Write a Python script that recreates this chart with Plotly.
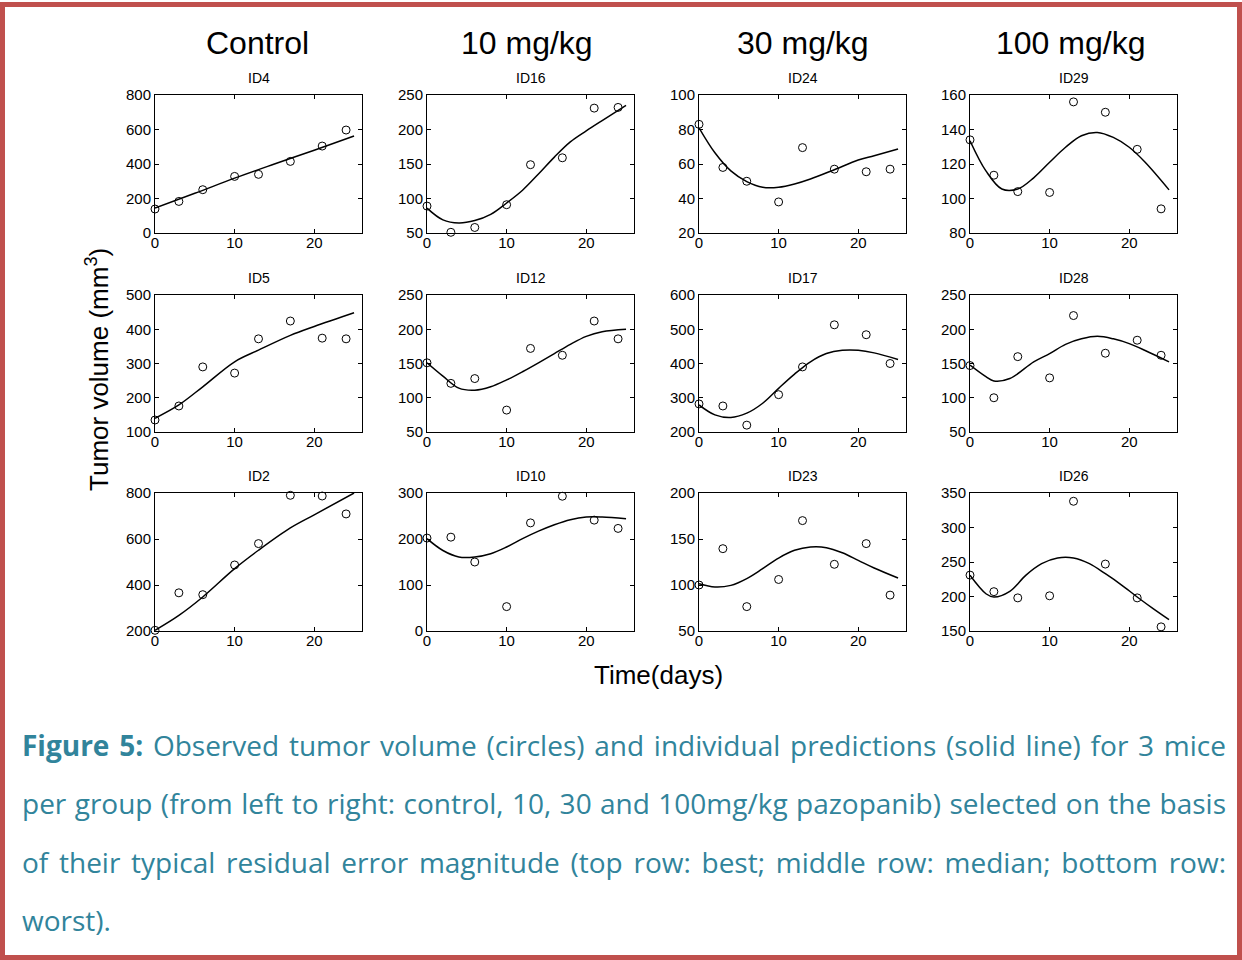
import json
import plotly.graph_objects as go
from plotly.subplots import make_subplots

# ---------------- data ----------------
days = [0, 3, 6, 10, 13, 17, 21, 24]
col_titles = ["Control", "10 mg/kg", "30 mg/kg", "100 mg/kg"]
panel_ids = [["ID4", "ID16", "ID24", "ID29"],
             ["ID5", "ID12", "ID17", "ID28"],
             ["ID2", "ID10", "ID23", "ID26"]]
x_ticks = [0, 10, 20]

# observed tumour volume (circles)
obs_ID4 = [139, 183, 251, 328, 340, 415, 504, 597]
obs_ID16 = [89, 51, 58, 91, 149, 159, 231, 232]
obs_ID24 = [83, 58, 50, 38, 69.5, 57, 55.5, 57]
obs_ID29 = [134, 113.5, 104, 103.5, 156, 150, 128.5, 94]
obs_ID5 = [135, 176, 290, 272, 372, 424, 374, 372]
obs_ID12 = [151, 121, 128, 82, 172, 162, 212, 186]
obs_ID17 = [282, 276, 220, 309, 390, 513, 484, 400]
obs_ID28 = [147, 100, 160, 129, 220, 165, 184, 162]
obs_ID2 = [203, 366, 358, 487, 580, 790, 787, 709]
obs_ID10 = [202, 204, 150, 53, 235, 293, 241, 223]
obs_ID23 = [100, 139.5, 76.5, 106, 170, 122.5, 145, 89]
obs_ID26 = [231, 207, 198, 201, 338, 247, 198, 156]

# individual predictions (solid line)
pred_t_ID4 = [0, 5, 10, 15, 20, 25]
pred_ID4 = [145, 230, 318, 400, 480, 562]
pred_t_ID16 = [0, 2, 4, 6, 8, 10, 12, 14, 16, 18, 20, 22, 25]
pred_ID16 = [86, 69, 64.5, 68, 77, 93.5, 112, 135.5, 160, 182, 198, 213, 235]
pred_t_ID24 = [0, 2, 4, 6, 8, 10, 12, 14, 17, 20, 22, 25]
pred_ID24 = [81, 66.5, 56, 49.8, 46.5, 46.5, 48.4, 51.3, 56.7, 62.3, 64.8, 68.7]
pred_t_ID29 = [0, 2, 4, 6, 8, 10, 12, 14, 16, 18, 20, 22, 25]
pred_ID29 = [133.5, 116, 105.5, 105.5, 112, 121, 129.7, 136.4, 138.3, 135.4, 129.7, 121, 105]
pred_t_ID5 = [0, 3, 6, 10, 13, 17, 20, 25]
pred_ID5 = [140, 179, 232, 305, 339, 382, 408, 448]
pred_t_ID12 = [0, 2, 4, 6, 8, 10, 12, 14, 16, 18, 20, 22, 25]
pred_ID12 = [151, 131.5, 114, 111, 116, 126, 138, 151, 164.5, 178, 189.6, 196.4, 200]
pred_t_ID17 = [0, 2, 4, 6, 8, 10, 12, 14, 16, 18, 20, 22, 25]
pred_ID17 = [279, 250, 242.5, 255, 284, 327.5, 369, 405, 429, 438.6, 438.6, 431, 411.6]
pred_t_ID28 = [0, 2, 3, 5, 8, 10, 12, 14, 16, 18, 20, 22, 25]
pred_ID28 = [147.6, 130.7, 124.4, 128, 152.4, 164.5, 178, 186, 189.6, 186, 179, 169, 152.4]
pred_t_ID2 = [0, 3, 6, 10, 13, 17, 20, 25]
pred_ID2 = [203, 268, 348, 471, 551, 648, 705, 800]
pred_t_ID10 = [0, 2, 4, 6, 8, 10, 12, 14, 16, 18, 20, 22, 25]
pred_ID10 = [200.7, 175, 161, 161, 168, 182.6, 200.7, 217, 231, 242, 247.8, 247.8, 244]
pred_t_ID23 = [0, 2, 4, 6, 8, 10, 12, 14, 16, 18, 20, 22, 25]
pred_ID23 = [101.4, 97.8, 99.6, 107, 117.8, 129.3, 137.7, 141.3, 140.6, 135, 126.8, 118.5, 107.6]
pred_t_ID26 = [0, 2, 3, 5, 7, 9, 11, 13, 15, 17, 19, 21, 23, 25]
pred_ID26 = [230.7, 204, 199.3, 207.5, 230.7, 247.6, 255.8, 255.8, 247.6, 233, 217, 199.3, 182.4, 166.4]

# y tick values of each panel
y_ticks_ID4 = [0, 200, 400, 600, 800]
y_ticks_ID16 = [50, 100, 150, 200, 250]
y_ticks_ID24 = [20, 40, 60, 80, 100]
y_ticks_ID29 = [80, 100, 120, 140, 160]
y_ticks_ID5 = [100, 200, 300, 400, 500]
y_ticks_ID12 = [50, 100, 150, 200, 250]
y_ticks_ID17 = [200, 300, 400, 500, 600]
y_ticks_ID28 = [50, 100, 150, 200, 250]
y_ticks_ID2 = [200, 400, 600, 800]
y_ticks_ID10 = [0, 100, 200, 300]
y_ticks_ID23 = [50, 100, 150, 200]
y_ticks_ID26 = [150, 200, 250, 300, 350]

caption_lines = [
    "<b>Figure 5:</b> Observed tumor volume (circles) and individual predictions (solid line) for 3 mice",
    "per group (from left to right: control, 10, 30 and 100mg/kg pazopanib) selected on the basis",
    "of their typical residual error magnitude (top row: best; middle row: median; bottom row:",
    "worst).",
]
caption_justified = [True, True, True, False]

panels = {
    "ID4": (obs_ID4, pred_t_ID4, pred_ID4, y_ticks_ID4),
    "ID16": (obs_ID16, pred_t_ID16, pred_ID16, y_ticks_ID16),
    "ID24": (obs_ID24, pred_t_ID24, pred_ID24, y_ticks_ID24),
    "ID29": (obs_ID29, pred_t_ID29, pred_ID29, y_ticks_ID29),
    "ID5": (obs_ID5, pred_t_ID5, pred_ID5, y_ticks_ID5),
    "ID12": (obs_ID12, pred_t_ID12, pred_ID12, y_ticks_ID12),
    "ID17": (obs_ID17, pred_t_ID17, pred_ID17, y_ticks_ID17),
    "ID28": (obs_ID28, pred_t_ID28, pred_ID28, y_ticks_ID28),
    "ID2": (obs_ID2, pred_t_ID2, pred_ID2, y_ticks_ID2),
    "ID10": (obs_ID10, pred_t_ID10, pred_ID10, y_ticks_ID10),
    "ID23": (obs_ID23, pred_t_ID23, pred_ID23, y_ticks_ID23),
    "ID26": (obs_ID26, pred_t_ID26, pred_ID26, y_ticks_ID26),
}

# ---------------- layout ----------------
W, H = 1242, 960
cols_px = [(155, 362), (427, 634), (699, 906), (970, 1177)]
rows_px = [(95, 233), (295, 432), (493, 631)]
FONT = "Arial, Liberation Sans, Helvetica, sans-serif"
CAP_FONT = "Open Sans, Noto Sans, sans-serif"
TEAL = "#31849B"
RED = "#C0504D"
CAP_LEFT, CAP_RIGHT = 20, 1226


def px_x(p):
    return p / W


def px_y(p):
    return 1 - p / H


fig = make_subplots(rows=3, cols=4)
annotations = []

for r in range(3):
    for c in range(4):
        pid = panel_ids[r][c]
        obs, pt, pv, yt = panels[pid]
        fig.add_trace(go.Scatter(
            x=pt, y=pv, mode="lines", line=dict(color="black", width=1.5, shape="spline", smoothing=1.0),
            showlegend=False, hoverinfo="skip"), row=r + 1, col=c + 1)
        fig.add_trace(go.Scatter(
            x=days, y=obs, mode="markers", cliponaxis=False,
            marker=dict(symbol="circle-open", size=8, color="black", line=dict(width=1)),
            showlegend=False), row=r + 1, col=c + 1)
        x0, x1 = cols_px[c]
        y0, y1 = rows_px[r]
        axis_common = dict(showline=True, linecolor="black", linewidth=1, mirror="ticks",
                           ticks="inside", ticklen=4, tickcolor="black", showgrid=False,
                           zeroline=False, automargin=False,
                           tickfont=dict(family=FONT, size=15, color="black"))
        fig.update_xaxes(domain=[px_x(x0), px_x(x1)], range=[0, 26], tickvals=x_ticks,
                         ticklabelstandoff=-4, row=r + 1, col=c + 1, **axis_common)
        fig.update_yaxes(domain=[px_y(y1), px_y(y0)], range=[yt[0], yt[-1]], tickvals=yt,
                         row=r + 1, col=c + 1, **axis_common)
        annotations.append(dict(text=pid, x=px_x((x0 + x1) / 2), y=px_y(y0 - 17),
                                xref="paper", yref="paper", showarrow=False,
                                font=dict(family=FONT, size=14, color="black"),
                                xanchor="center", yanchor="middle"))

col_centers = [257, 527, 803, 1070]
for t, cx in zip(col_titles, col_centers):
    annotations.append(dict(text=t, x=px_x(cx), y=px_y(43), xref="paper", yref="paper",
                            showarrow=False, font=dict(family=FONT, size=32, color="black"),
                            xanchor="center", yanchor="middle"))

annotations.append(dict(text="Tumor volume (mm<sup>3</sup>)", x=px_x(97), y=px_y(370),
                        xref="paper", yref="paper", showarrow=False, textangle=-90,
                        font=dict(family=FONT, size=26, color="black"),
                        xanchor="center", yanchor="middle"))
annotations.append(dict(text="Time(days)", x=px_x(658), y=px_y(675),
                        xref="paper", yref="paper", showarrow=False,
                        font=dict(family=FONT, size=26, color="black"),
                        xanchor="center", yanchor="middle"))

cap_y = [745, 803, 862, 920]
for line, cy in zip(caption_lines, cap_y):
    annotations.append(dict(text=line, x=px_x(CAP_LEFT), y=px_y(cy), xref="paper", yref="paper",
                            showarrow=False, font=dict(family=CAP_FONT, size=28, color=TEAL),
                            xanchor="left", yanchor="middle", align="left"))

fig.update_layout(
    template="none",
    width=W, height=H, autosize=False,
    margin=dict(l=0, r=0, t=0, b=0, pad=0, autoexpand=False),
    font=dict(family=FONT, color="black"),
    paper_bgcolor="white", plot_bgcolor="white",
    annotations=annotations,
    shapes=[dict(type="rect", xref="paper", yref="paper",
                 x0=px_x(2.5), x1=px_x(1239.5), y0=px_y(957.5), y1=px_y(4.5),
                 line=dict(color=RED, width=5), fillcolor="rgba(0,0,0,0)", layer="above")],
)

# plain-text prefixes of the justified caption lines
just_prefixes = []
for line, j in zip(caption_lines, caption_justified):
    if j:
        just_prefixes.append(line.replace("<b>", "").replace("</b>", "")[:20])

post_js = """
document.documentElement.style.margin='0';
document.body.style.margin='0';
document.body.style.padding='0';
document.body.style.overflow='hidden';
var gd = document.getElementById('{plot_id}');
gd.style.position='fixed'; gd.style.top='0px'; gd.style.left='0px';
var prefixes = PREFIXES;
var right = RIGHT;
var texts = gd.querySelectorAll('text.annotation-text');
texts.forEach(function(t){
  var s = t.textContent;
  prefixes.forEach(function(p){
    if (s.indexOf(p) === 0) {
      var n = (s.match(/[ \\u00A0]/g) || []).length;
      var bb = t.getBoundingClientRect();
      var extra = (right - bb.right) / n;
      if (n > 0 && extra > 0) { t.style.wordSpacing = extra + 'px'; }
    }
  });
});
""".replace("PREFIXES", json.dumps(just_prefixes)).replace("RIGHT", str(CAP_RIGHT))

fig.write_html("out.html", config={"displayModeBar": False}, post_script=post_js)
